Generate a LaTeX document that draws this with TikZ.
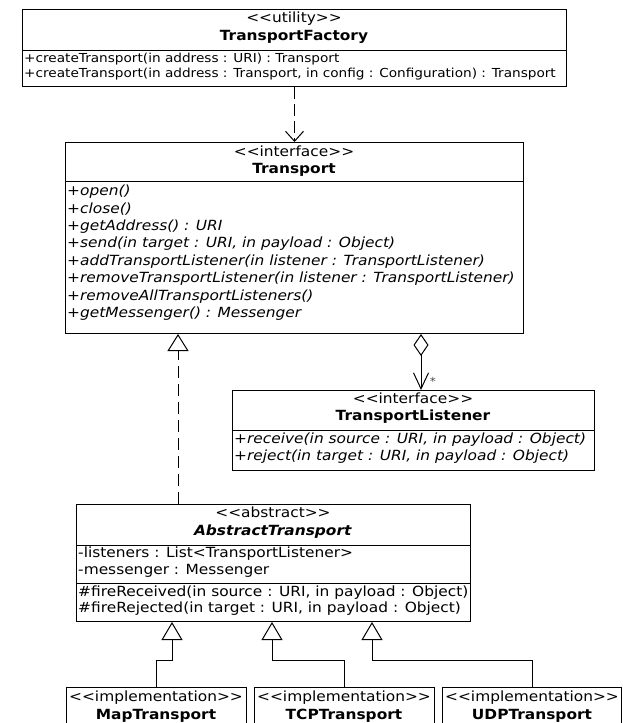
\documentclass[tikz,border=0pt]{standalone}
\usepackage{fontspec}
\setmainfont{DejaVu Sans}[Ligatures=TeXOff, FakeStretch=1.1]
\usetikzlibrary{arrows.meta}
\begin{document}
\begin{tikzpicture}[x=1pt,y=-1pt,
  txt/.style={inner sep=0pt, font=\fontsize{14}{16}\selectfont},
  small/.style={inner sep=0pt, font=\fontsize{12.4}{14}\selectfont, anchor=mid west},
  lt/.style={txt, anchor=mid west},
  ct/.style={txt, anchor=mid},
  box/.style={draw, line width=1pt, inner sep=0pt, anchor=north west, fill=white},
  sep/.style={line width=1pt},
  dep/.style={line width=1pt, dash pattern=on 12pt off 5pt, -{Straight Barb[length=10pt,width=18pt,line width=1pt]}},
  real/.style={line width=1pt, dash pattern=on 12pt off 6pt, -{Triangle[open,length=17pt,width=21pt,line width=1pt,fill=white]}},
  gen/.style={line width=1pt, -{Triangle[open,length=18pt,width=21pt,line width=1pt,fill=white]}},
  agg/.style={line width=1pt, {Diamond[open,length=22pt,width=15pt,line width=1pt,fill=white]}-{Straight Barb[length=16pt,width=15pt,line width=1pt]}}
]
\useasboundingbox (0,0) rectangle (622,723);
\fill[white] (0,0) rectangle (622,723);
\clip (0,0) rectangle (622,723);

% ---------------- TransportFactory
\node[box, minimum width=544, minimum height=77] (tf) at (22,9) {};
\draw[sep] (22,50) -- (566,50);
\node[ct] (tfs) at (294,20) {<<utility>>};
\node[ct] (tfn) at (294,38) {\textbf{TransportFactory}};
\node[small] (tf1) at (24,60) {+createTransport(in address : URI) : Transport};
\node[small] (tf2) at (24,74.5) {+createTransport(in address : Transport, in config : Configuration) : Transport};

% ---------------- Transport
\node[box, minimum width=458, minimum height=191] (tr) at (65,142) {};
\draw[sep] (65,181) -- (523,181);
\node[ct] (trs) at (294,154) {<<interface>>};
\node[ct] (trn) at (294,171) {\textbf{Transport}};
\node[lt] (t1) at (67,193) {\textit{+open()}};
\node[lt] (t2) at (67,210.4) {\textit{+close()}};
\node[lt] (t3) at (67,227.8) {\textit{+getAddress() : URI}};
\node[lt] (t4) at (67,245.2) {\textit{+send(in target : URI, in payload : Object)}};
\node[lt] (t5) at (67,262.6) {\textit{+addTransportListener(in listener : TransportListener)}};
\node[lt] (t6) at (67,280) {\textit{+removeTransportListener(in listener : TransportListener)}};
\node[lt] (t7) at (67,297.4) {\textit{+removeAllTransportListeners()}};
\node[lt] (t8) at (67,314.8) {\textit{+getMessenger() : Messenger}};

% ---------------- TransportListener
\node[box, minimum width=362, minimum height=80] (tl) at (232,390) {};
\draw[sep] (232,430) -- (594,430);
\node[ct] (tls) at (413,401) {<<interface>>};
\node[ct] (tln) at (413,418) {\textbf{TransportListener}};
\node[lt] (l1) at (234,441) {\textit{+receive(in source : URI, in payload : Object)}};
\node[lt] (l2) at (234,458) {\textit{+reject(in target : URI, in payload : Object)}};

% ---------------- AbstractTransport
\node[box, minimum width=394, minimum height=117] (at) at (76,504) {};
\draw[sep] (76,545) -- (470,545);
\draw[sep] (76,583) -- (470,583);
\node[ct] (ats) at (273,515) {<<abstract>>};
\node[ct] (atn) at (273,533) {\textbf{\textit{AbstractTransport}}};
\node[lt] (a1) at (78,555) {-listeners : List<TransportListener>};
\node[lt] (a2) at (78,572) {-messenger : Messenger};
\node[lt] (a3) at (78,594) {\#fireReceived(in source : URI, in payload : Object)};
\node[lt] (a4) at (78,610) {\#fireRejected(in target : URI, in payload : Object)};

% ---------------- implementations
\node[box, minimum width=180, minimum height=60] (map) at (66,687) {};
\node[box, minimum width=180, minimum height=60] (tcp) at (254,687) {};
\node[box, minimum width=179, minimum height=60] (udp) at (442,687) {};
\node[ct] (ms) at (156,699) {<<implementation>>};
\node[ct] (mn) at (156,717) {\textbf{MapTransport}};
\node[ct] (cs) at (344,699) {<<implementation>>};
\node[ct] (cn) at (344,717) {\textbf{TCPTransport}};
\node[ct] (us) at (532,699) {<<implementation>>};
\node[ct] (un) at (532,717) {\textbf{UDPTransport}};

% ---------------- connectors
\draw[dep] (tf.south -| tr.north) -- (tr.north);

\coordinate (rx) at (178,0);
\draw[real] (at.north -| rx) -- (tr.south -| rx);

\coordinate (ax) at (421,0);
\draw[agg] (tr.south -| ax) -- (tl.north -| ax);
\node[inner sep=0pt, font=\fontsize{11}{12}\selectfont, text=black!70] (star) at (433,381) {*};

\coordinate (h1) at (172,660);
\coordinate (h2) at (272,660);
\coordinate (h3) at (372,660);
\draw[gen] (map.north) |- (h1) -- (at.south -| h1);
\draw[gen] (tcp.north) |- (h2) -- (at.south -| h2);
\draw[gen] (udp.north) |- (h3) -- (at.south -| h3);
\end{tikzpicture}
\end{document}
